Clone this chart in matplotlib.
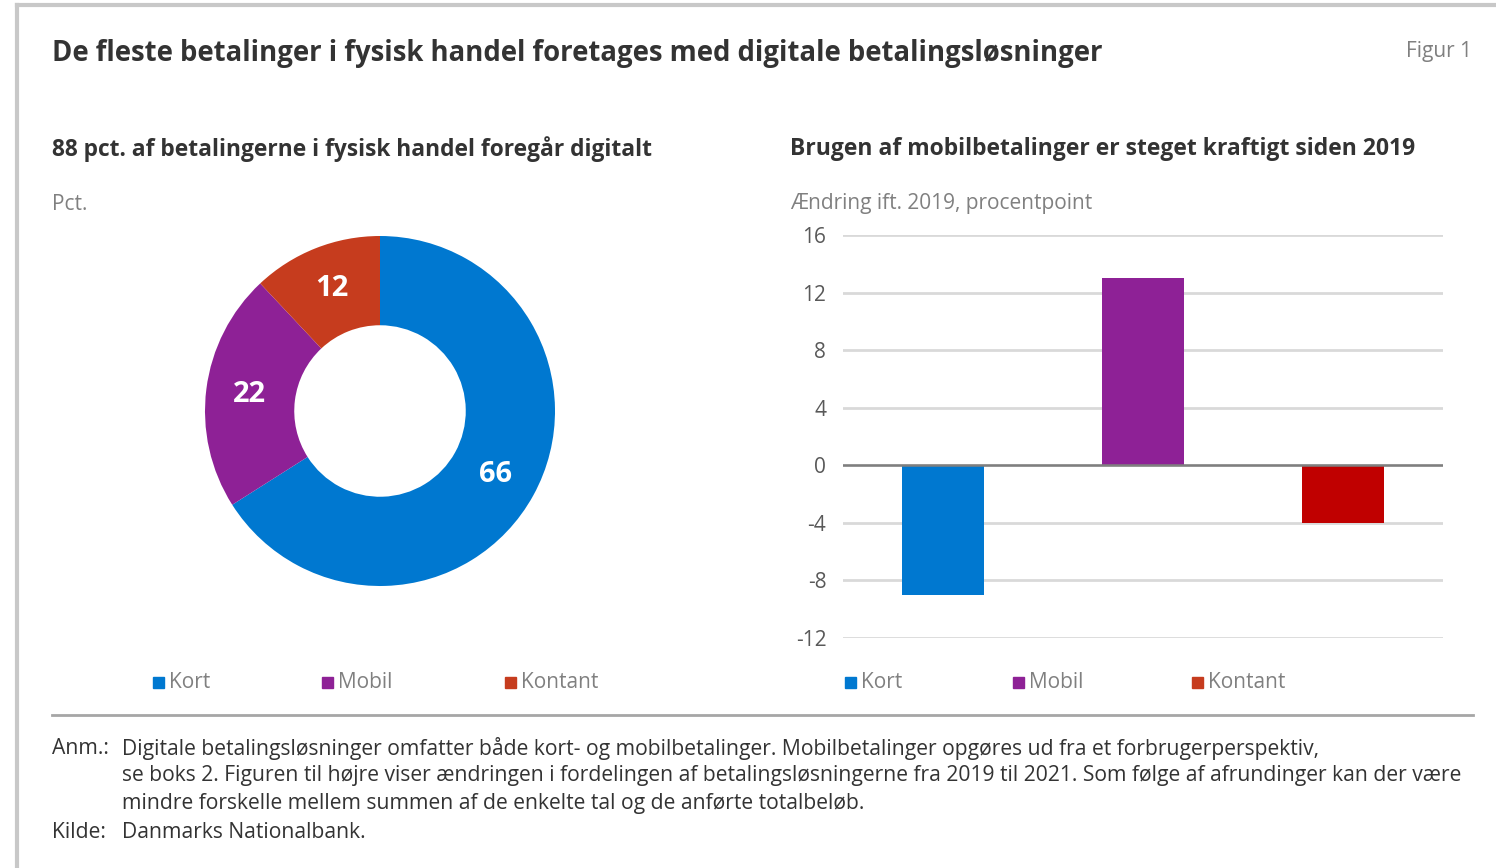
import matplotlib
matplotlib.use("Agg")
import matplotlib.pyplot as plt
from matplotlib.patches import Rectangle
from matplotlib.lines import Line2D

plt.rcParams['font.family'] = ['Open Sans', 'DejaVu Sans']

# data
categories = ["Kort", "Mobil", "Kontant"]
shares = [66, 22, 12]            # pct. of payments, 2021
change = [-9, 13, -4]            # change vs 2019, percentage points
yticks = [-12, -8, -4, 0, 4, 8, 12, 16]

pie_colors = ["#0078D0", "#8E2196", "#C63C1E"]
bar_colors = ["#0078D0", "#8E2196", "#C00000"]
legend_colors = ["#0078D0", "#8E2196", "#C63C1E"]

W, H = 1496, 868
fig = plt.figure(figsize=(W / 100, H / 100), dpi=100)
fig.patch.set_facecolor("white")

def fx(px):
    return px / W

def fy(py):
    return 1 - py / H

dark = "#333333"
grey = "#808080"

# frame
fig.add_artist(Line2D([fx(17), 1], [fy(5), fy(5)], color="#C8C8C8", lw=3, transform=fig.transFigure))
fig.add_artist(Line2D([fx(17), fx(17)], [fy(5), 0], color="#C8C8C8", lw=3, transform=fig.transFigure))

# titles
fig.text(fx(52), fy(54), "De fleste betalinger i fysisk handel foretages med digitale betalingsløsninger",
         fontsize=19.8, fontweight="bold", color=dark, va="center")
fig.text(fx(1472), fy(51), "Figur 1", fontsize=15, color=grey, va="center", ha="right")
fig.text(fx(52), fy(149), "88 pct. af betalingerne i fysisk handel foregår digitalt",
         fontsize=16.4, fontweight="bold", color=dark, va="center")
fig.text(fx(790), fy(149), "Brugen af mobilbetalinger er steget kraftigt siden 2019",
         fontsize=16.5, fontweight="bold", color=dark, va="center")
fig.text(fx(52), fy(204), "Pct.", fontsize=15, color=grey, va="center")
fig.text(fx(790), fy(204), "Ændring ift. 2019, procentpoint", fontsize=15, color=grey, va="center")

# donut
cx, cy, half = 380, 411, 180
ax1 = fig.add_axes([fx(cx - half), fy(cy + half), fx(2 * half), (2 * half) / H])
wedges, texts, autotexts = ax1.pie(
    shares, colors=pie_colors, startangle=90, counterclock=False,
    radius=1, wedgeprops=dict(width=0.51, edgecolor="none"),
    autopct=lambda p: f"{p:.0f}", pctdistance=0.75,
    textprops=dict(color="white", fontsize=21, fontweight="bold"))
ax1.set_xlim(-half / 175, half / 175)
ax1.set_ylim(-half / 175, half / 175)
ax1.set_aspect("equal")

# bars
ax2 = fig.add_axes([fx(843), fy(638), fx(600), 403 / H])
x = range(len(categories))
ax2.bar(x, change, width=0.41, color=bar_colors, zorder=3)
ax2.set_xlim(-0.5, 2.5)
ax2.set_ylim(-12, 16)
ax2.set_yticks(yticks)
ax2.set_yticklabels([str(t) for t in yticks])
ax2.set_xticks([])
ax2.grid(axis="y", color="#D9D9D9", lw=2, zorder=0)
ax2.axhline(0, color="#7F7F7F", lw=1.8, zorder=4)
for s in ax2.spines.values():
    s.set_visible(False)
ax2.tick_params(axis="y", length=0, pad=12, labelsize=15, labelcolor="#595959")

# legends
def legend_row(xs):
    for xp, lab, col in zip(xs, categories, legend_colors):
        fig.add_artist(Rectangle((fx(xp), fy(688)), fx(11), 11 / H, color=col,
                                 transform=fig.transFigure))
        fig.text(fx(xp + 16), fy(683), lab, fontsize=15, color=grey, va="center")

legend_row([153, 322, 505])
legend_row([845, 1013, 1192])

# footer
fig.add_artist(Line2D([fx(52), fx(1473)], [fy(715), fy(715)], color="#A6A6A6", lw=2,
                      transform=fig.transFigure))
notes = [
    "Digitale betalingsløsninger omfatter både kort- og mobilbetalinger. Mobilbetalinger opgøres ud fra et forbrugerperspektiv,",
    "se boks 2. Figuren til højre viser ændringen i fordelingen af betalingsløsningerne fra 2019 til 2021. Som følge af afrundinger kan der være",
    "mindre forskelle mellem summen af de enkelte tal og de anførte totalbeløb.",
]
fig.text(fx(52), fy(748), "Anm.:", fontsize=15.2, color=dark, va="center")
for i, line in enumerate(notes):
    fig.text(fx(122), fy(748 + 28 * i), line, fontsize=15.2, color=dark, va="center")
fig.text(fx(52), fy(832), "Kilde:", fontsize=15.2, color=dark, va="center")
fig.text(fx(122), fy(832), "Danmarks Nationalbank.", fontsize=15.2, color=dark, va="center")

fig.savefig("out.png", dpi=100)
